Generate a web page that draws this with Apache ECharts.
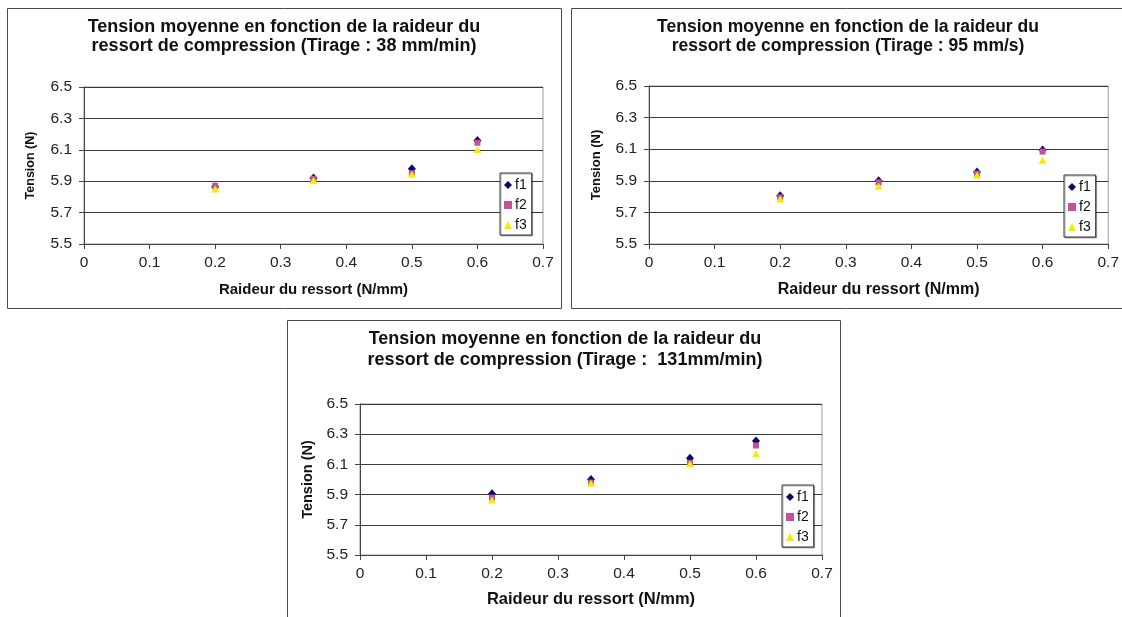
<!DOCTYPE html>
<html>
<head>
<meta charset="utf-8">
<script src="https://cdn.jsdelivr.net/npm/echarts@6/dist/echarts.min.js"></script>
<style>
html,body{margin:0;padding:0;background:#fff;}
#c{width:1122px;height:617px;}
</style>
</head>
<body>
<div id="c"></div>
<script>
// ---- data ----
const raideur = [0.2, 0.35, 0.5, 0.6];
const xTicks = [0, 0.1, 0.2, 0.3, 0.4, 0.5, 0.6, 0.7];
const yTicks = [5.5, 5.7, 5.9, 6.1, 6.3, 6.5];
const seriesNames = ['f1', 'f2', 'f3'];
const titles = [
  'Tension moyenne en fonction de la raideur du\nressort de compression (Tirage : 38 mm/min)',
  'Tension moyenne en fonction de la raideur du\nressort de compression (Tirage : 95 mm/s)',
  'Tension moyenne en fonction de la raideur du\nressort de compression (Tirage :  131mm/min)'
];
const xName = 'Raideur du ressort (N/mm)';
const yName = 'Tension (N)';
// chart 1 : 38 mm/min
const c1_f1 = [5.865, 5.92, 5.98, 6.16];
const c1_f2 = [5.87, 5.915, 5.95, 6.145];
const c1_f3 = [5.85, 5.905, 5.945, 6.10];
// chart 2 : 95 mm/s
const c2_f1 = [5.805, 5.90, 5.955, 6.095];
const c2_f2 = [5.795, 5.89, 5.945, 6.085];
const c2_f3 = [5.785, 5.865, 5.935, 6.03];
// chart 3 : 131 mm/min
const c3_f1 = [5.905, 6.00, 6.14, 6.255];
const c3_f2 = [5.88, 5.98, 6.11, 6.225];
const c3_f3 = [5.865, 5.975, 6.105, 6.17];

const chartData = [[c1_f1, c1_f2, c1_f3], [c2_f1, c2_f2, c2_f3], [c3_f1, c3_f2, c3_f3]];

// ---- layout ----
const FONT = '"Liberation Sans", Arial, sans-serif';
const boxes = [
  {x: 7, y: 8, w: 554, h: 300},
  {x: 571, y: 8, w: 556, h: 300},
  {x: 287, y: 320, w: 553, h: 310}
];
const grids = [
  {left: 84, top: 87, width: 459, height: 157},
  {left: 649, top: 86, width: 460, height: 158},
  {left: 360, top: 404, width: 462, height: 151}
];
const titlePos = [
  {cx: 284, top: 17, size: 18, lh: 19.5},
  {cx: 848, top: 17, size: 17.5, lh: 19.5},
  {cx: 565, top: 328.5, size: 18, lh: 21}
];
const legendPos = [
  {left: 500, top: 173},
  {left: 1064, top: 175},
  {left: 782, top: 485}
];
const xNameSize = [15, 16, 16.5];
const yNameSize = [12.5, 13, 14.5];
const yNameGap = [47, 46, 45];
const xNameGap = [38, 38, 36];

const colors = ['#0a0a6e', '#c4519b', '#f5ec00'];
const symbols = ['diamond', 'rect', 'triangle'];
const symSizes = [[8, 9], 6, [8, 7]];

const option = {
  animation: false,
  backgroundColor: '#fff',
  textStyle: {fontFamily: FONT},
  title: [], grid: [], xAxis: [], yAxis: [], legend: [], series: [],
  graphic: boxes.map(b => ({
    type: 'rect', shape: {x: b.x + 0.5, y: b.y + 0.5, width: b.w, height: b.h},
    style: {fill: 'none', stroke: '#4a4a4a', lineWidth: 1}, z: -1
  }))
};

for (let k = 0; k < 3; k++) {
  const tp = titlePos[k];
  option.title.push({
    text: titles[k], left: tp.cx, top: tp.top, textAlign: 'center', padding: 0,
    textStyle: {fontFamily: FONT, fontSize: tp.size, fontWeight: 'bold', color: '#111', lineHeight: tp.lh}
  });
  option.grid.push(Object.assign({show: true, borderColor: '#9a9a9a', borderWidth: 1, backgroundColor: '#fff', containLabel: false}, grids[k]));
  option.xAxis.push({
    type: 'value', gridIndex: k, min: xTicks[0], max: xTicks[xTicks.length - 1], interval: 0.1,
    name: xName, nameLocation: 'middle', nameGap: xNameGap[k],
    nameTextStyle: {fontFamily: FONT, fontSize: xNameSize[k], fontWeight: 'bold', color: '#111'},
    axisLine: {show: true, onZero: false, lineStyle: {color: '#444', width: 1}},
    axisTick: {show: true, inside: false, length: 5, lineStyle: {color: '#444'}},
    axisLabel: {margin: 11, fontFamily: FONT, fontSize: 15.5, color: '#222',
      formatter: v => (Math.abs(v) < 1e-9 ? '0' : v.toFixed(1))},
    splitLine: {show: false}
  });
  option.yAxis.push({
    type: 'value', gridIndex: k, min: yTicks[0], max: yTicks[yTicks.length - 1], interval: 0.2,
    name: yName, nameLocation: 'middle', nameGap: yNameGap[k], nameRotate: 90,
    nameTextStyle: {fontFamily: FONT, fontSize: yNameSize[k], fontWeight: 'bold', color: '#111'},
    axisLine: {show: true, lineStyle: {color: '#444', width: 1}},
    axisTick: {show: true, inside: false, length: 5, lineStyle: {color: '#444'}},
    axisLabel: {margin: 12, fontFamily: FONT, fontSize: 15.5, color: '#222', formatter: v => v.toFixed(1)},
    splitLine: {show: true, lineStyle: {color: '#3a3a3a', width: 1}}
  });
  option.legend.push({
    orient: 'vertical', left: legendPos[k].left, top: legendPos[k].top,
    padding: [4, 5, 2, 4], itemGap: 4, itemWidth: 8, itemHeight: 8,
    backgroundColor: '#fff', borderColor: '#333', borderWidth: 1,
    shadowColor: 'rgba(0,0,0,0.3)', shadowOffsetX: 1, shadowOffsetY: 1, shadowBlur: 0,
    textStyle: {fontFamily: FONT, fontSize: 14, lineHeight: 16, color: '#111', padding: [0, 0, 0, -2]},
    data: seriesNames.map((n, i) => ({name: n, icon: symbols[i]})),
    selectedMode: false
  });
  for (let s = 0; s < 3; s++) {
    option.series.push({
      type: 'scatter', name: seriesNames[s], xAxisIndex: k, yAxisIndex: k,
      symbol: symbols[s], symbolSize: symSizes[s],
      itemStyle: {color: colors[s], opacity: 1},
      data: raideur.map((x, i) => [x, chartData[k][s][i]])
    });
  }
}

const chart = echarts.init(document.getElementById('c'), null, {renderer: 'canvas'});
chart.setOption(option);
</script>
</body>
</html>
